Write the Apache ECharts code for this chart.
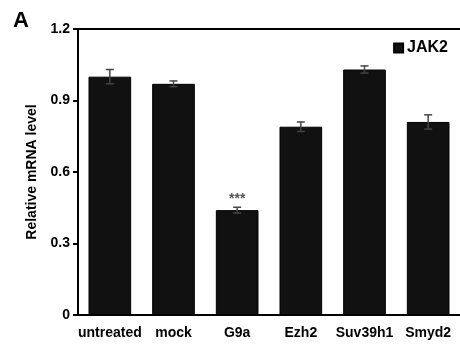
<!DOCTYPE html>
<html lang="en">
  <head>
    <meta charset="UTF-8" />
    <title>JAK2</title>
    <script src="https://cdn.jsdelivr.net/npm/echarts@6/dist/echarts.min.js"></script>
    <style>
      html, body { margin: 0; padding: 0; background: #fff; }
    </style>
  </head>
  <body>
    <div id="main" style="width: 460px;height:348px;"></div>
    <script type="text/javascript">
      var categories = ["untreated", "mock", "G9a", "Ezh2", "Suv39h1", "Smyd2"];
      var jak2 = [1.0, 0.97, 0.44, 0.79, 1.03, 0.81];
      var jak2Err = [0.03, 0.012, 0.012, 0.02, 0.015, 0.03];
      var signif = ["", "", "***", "", "", ""];
      var yTicks = [0, 0.3, 0.6, 0.9, 1.2];

      var font = "Liberation Sans, Arial, sans-serif";
      var myChart = echarts.init(document.getElementById("main"));

      var option = {
        animation: false,
        title: {
          text: "A",
          left: 8,
          top: 5,
          textStyle: { fontFamily: font, fontWeight: "bold", fontSize: 22, color: "#000" },
        },
        legend: {
          data: ["JAK2"],
          right: 7,
          top: 35,
          itemWidth: 9,
          itemHeight: 9,
          itemGap: 2,
          icon: "rect",
          textStyle: { fontFamily: font, fontWeight: "bold", fontSize: 16, color: "#000", padding: [0, 0, 0, -1] },
        },
        grid: { left: 78, right: -2, top: 29, bottom: 33 },
        xAxis: [
          {
            type: "category",
            data: categories,
            axisLine: { lineStyle: { color: "#000", width: 2 } },
            axisTick: { lineStyle: { color: "#000", width: 2 }, length: 5 },
            axisLabel: {
              fontFamily: font,
              fontWeight: "bold",
              fontSize: 14,
              color: "#000",
              margin: 11,
              interval: 0,
            },
          },
          {
            type: "category",
            position: "top",
            data: categories,
            axisLine: { lineStyle: { color: "#000", width: 2 } },
            axisTick: { show: false },
            axisLabel: { show: false },
          },
        ],
        yAxis: {
          type: "value",
          min: 0,
          max: 1.2,
          interval: 0.3,
          name: "Relative mRNA level",
          nameLocation: "middle",
          nameGap: 39,
          nameTextStyle: { fontFamily: font, fontWeight: "bold", fontSize: 14, color: "#000" },
          axisLine: { show: true, lineStyle: { color: "#000", width: 2 } },
          axisTick: { show: true, inside: false, length: 5, lineStyle: { color: "#000", width: 2 } },
          splitLine: { show: false },
          axisLabel: {
            fontFamily: font,
            fontWeight: "bold",
            fontSize: 14,
            color: "#000",
            margin: 8,
            formatter: function (v) {
              return yTicks.indexOf(Math.round(v * 10) / 10) >= 0 ? (v === 0 ? "0" : v.toFixed(1)) : "";
            },
          },
        },
        series: [
          {
            name: "JAK2",
            type: "bar",
            data: jak2,
            barWidth: "67%",
            itemStyle: { color: "#111", borderColor: "#000", borderWidth: 1 },
            z: 2,
          },
          {
            name: "err",
            type: "custom",
            data: jak2.map(function (v, i) { return [i, v, jak2Err[i]]; }),
            renderItem: function (params, api) {
              var i = api.value(0);
              var v = api.value(1);
              var e = api.value(2);
              var hi = api.coord([i, v + e]);
              var lo = api.coord([i, v - e]);
              var cap = 4;
              var style = { stroke: "#444", lineWidth: 1.5 };
              var children = [
                { type: "line", shape: { x1: hi[0], y1: hi[1], x2: lo[0], y2: lo[1] }, style: style },
                { type: "line", shape: { x1: hi[0] - cap, y1: hi[1], x2: hi[0] + cap, y2: hi[1] }, style: style },
                { type: "line", shape: { x1: lo[0] - cap, y1: lo[1], x2: lo[0] + cap, y2: lo[1] }, style: style },
              ];
              if (signif[i]) {
                children.push({
                  type: "text",
                  style: {
                    x: hi[0],
                    y: hi[1] - 1,
                    text: signif[i],
                    fill: "#555",
                    font: "bold 14px " + font,
                    textAlign: "center",
                    textVerticalAlign: "bottom",
                  },
                });
              }
              return { type: "group", children: children };
            },
            z: 3,
          },
        ],
      };

      myChart.setOption(option);
    </script>
  </body>
</html>
